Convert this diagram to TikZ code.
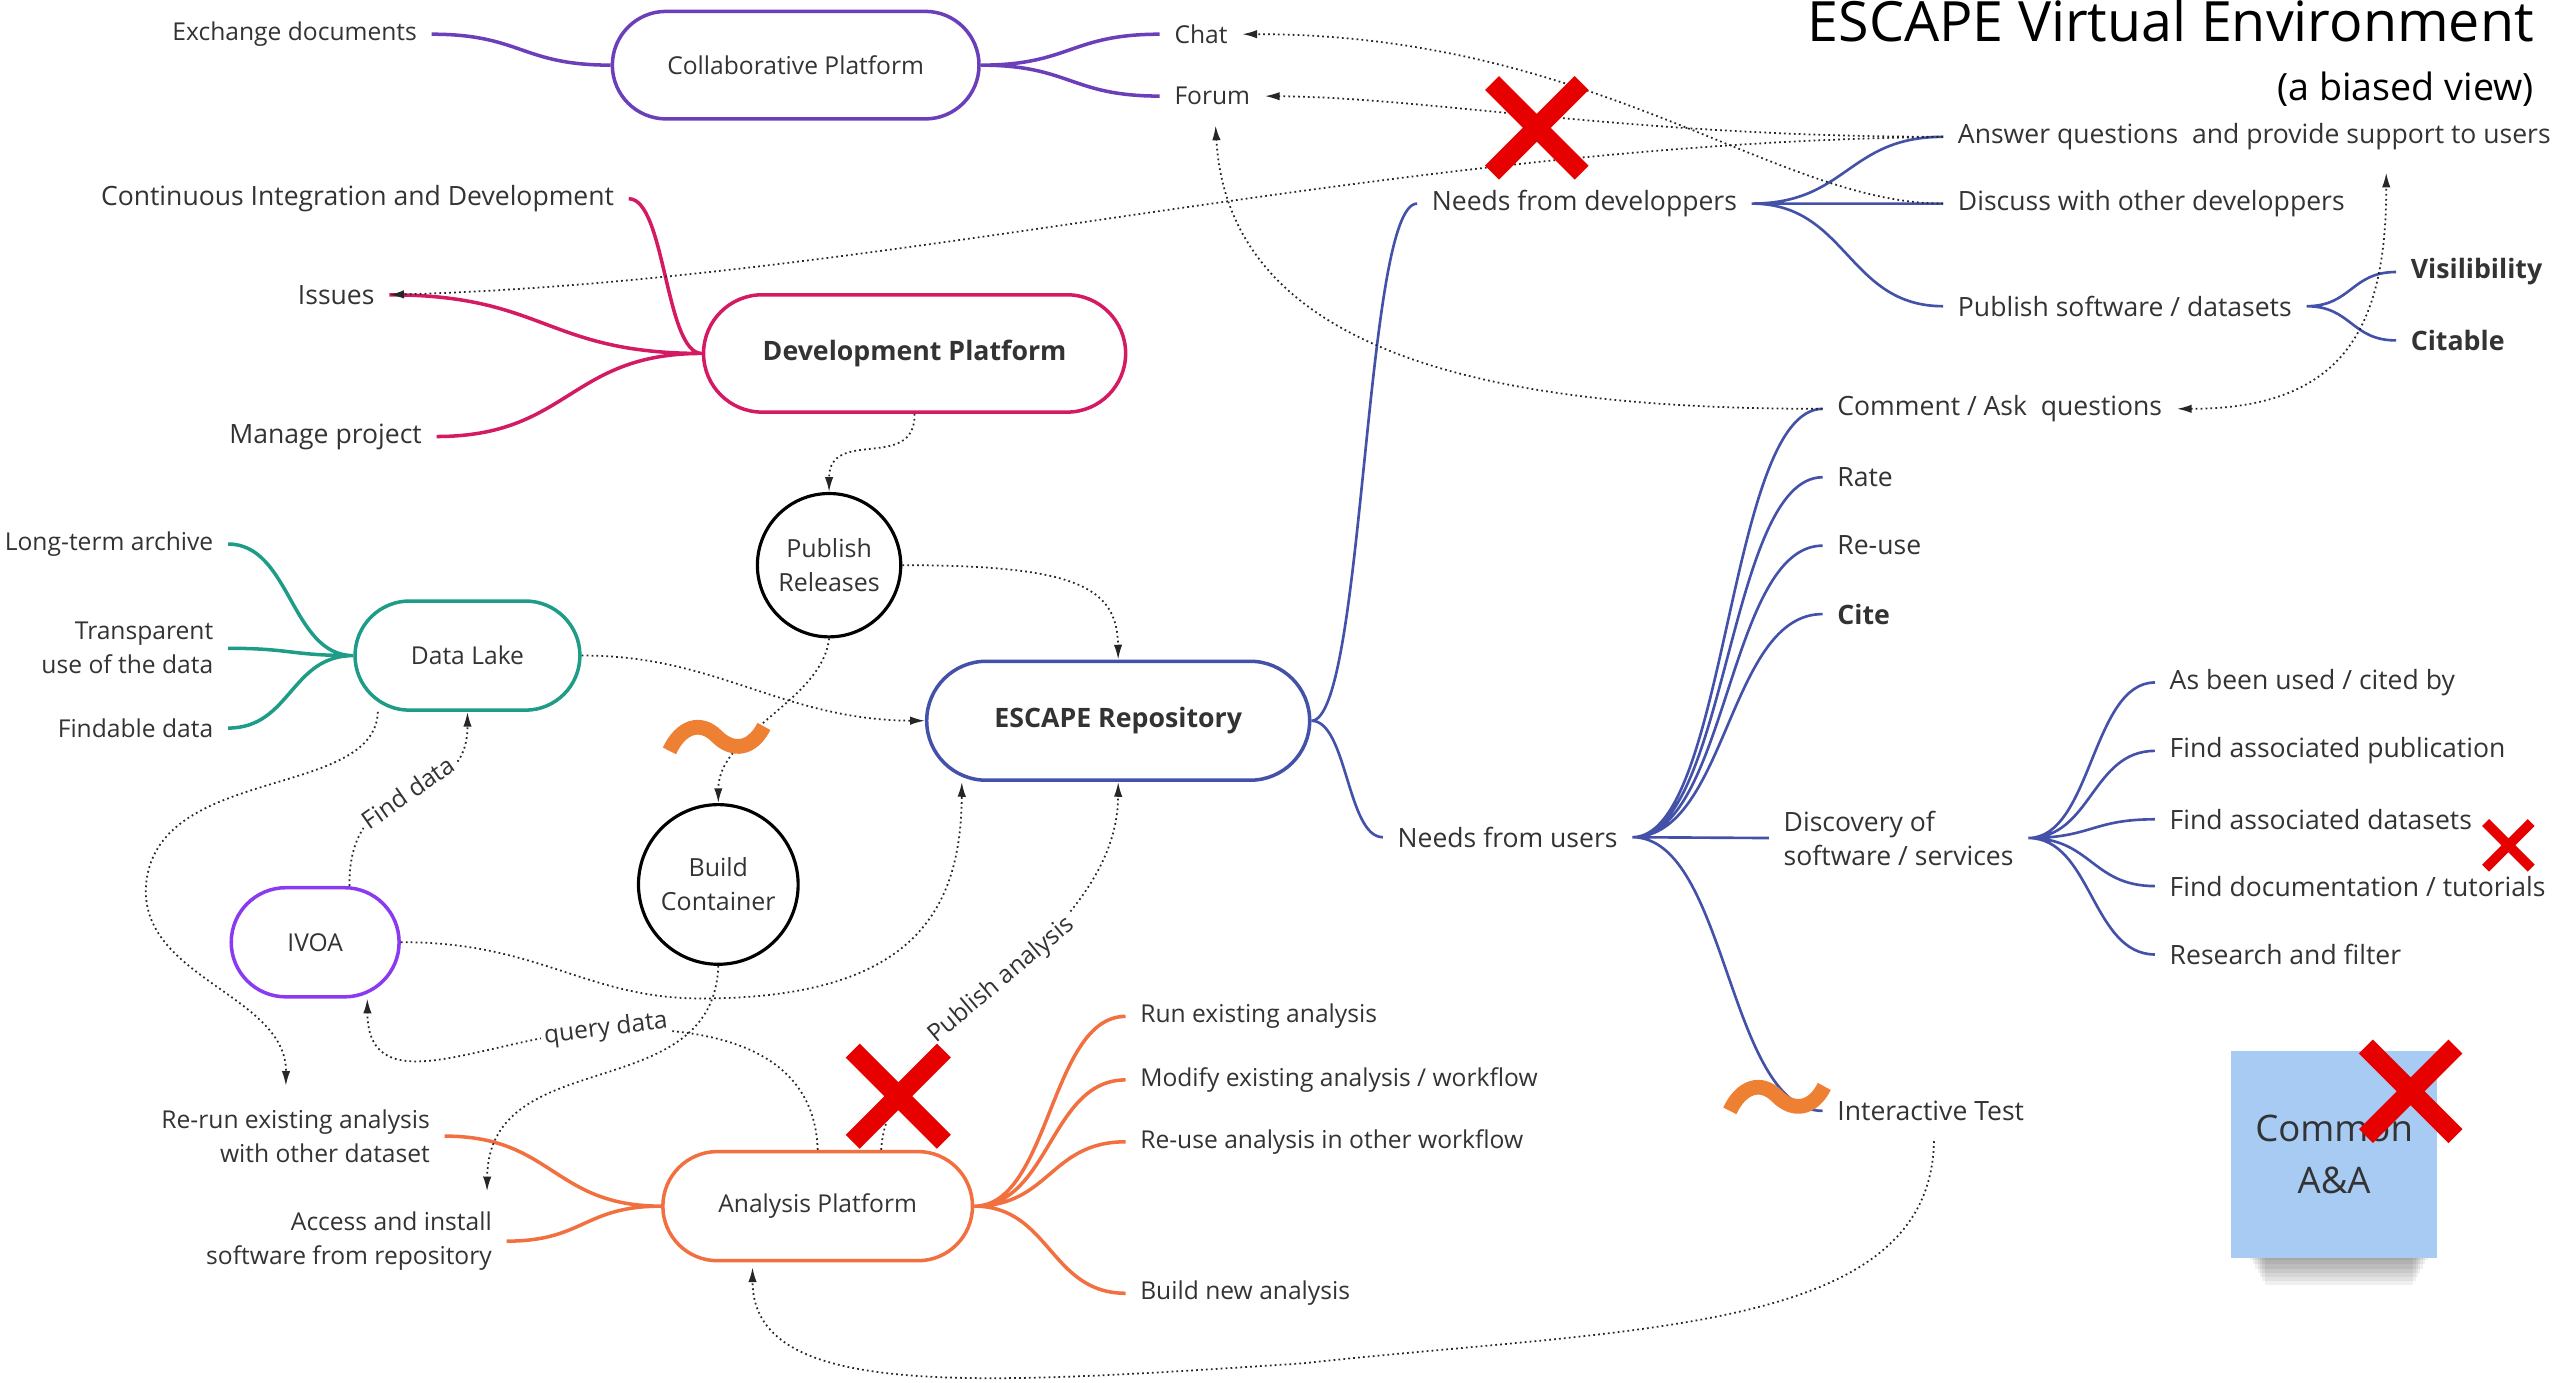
\documentclass[tikz,border=0pt]{standalone}
\usepackage{fontspec}
\setmainfont{Open Sans}
\usetikzlibrary{shapes.misc,arrows.meta,calc}
\newlength\pxu \setlength\pxu{0.016288cm}
\definecolor{txt}{HTML}{333333}
\definecolor{cPurple}{HTML}{6B3FBA}
\definecolor{cPink}{HTML}{D41A63}
\definecolor{cTeal}{HTML}{1E9C87}
\definecolor{cViolet}{HTML}{8A3BF2}
\definecolor{cBlue}{HTML}{4352A8}
\definecolor{cOrange}{HTML}{F2703F}
\definecolor{cTilde}{HTML}{EE8033}
\definecolor{cRed}{HTML}{E60000}
\definecolor{cSticky}{HTML}{A8CBF3}
\tikzset{
  lbl/.style={text=txt, inner xsep=4pt, inner ysep=1pt, font=\fontsize{7.0}{9.7}\selectfont},
  lblL/.style={lbl, font=\fontsize{7.55}{9.7}\selectfont},
  lblLb/.style={lbl, font=\fontsize{7.6}{9.7}\selectfont\bfseries},
  stad/.style={rounded rectangle, draw, line width=1pt, text=txt, inner sep=0pt, font=\fontsize{7.0}{9.7}\selectfont},
  stadb/.style={stad, font=\fontsize{7.6}{9.7}\selectfont\bfseries},
  circ/.style={circle, draw=black, line width=0.9pt, text=txt, inner sep=0pt, align=center, font=\fontsize{7.1}{9.7}\selectfont},
  treeline/.style={line width=1pt, draw=#1},
  thintree/.style={line width=0.75pt, draw=#1},
  mm/.style={to path={.. controls ($(\tikztostart)!0.5!(\tikztostart -| \tikztotarget)$) and ($(\tikztotarget)!0.5!(\tikztotarget -| \tikztostart)$) .. (\tikztotarget) \tikztonodes}},
  dotarr/.style={draw=black!85, line width=0.5pt, dash pattern=on 0.5pt off 0.9pt, -{Latex[length=4.2pt,width=2.4pt]}},
  dotarrb/.style={dotarr, {Latex[length=4.2pt,width=2.4pt]}-{Latex[length=4.2pt,width=2.4pt]}},
  edgelbl/.style={fill=white, inner sep=1pt, text=txt, font=\fontsize{7.0}{9.7}\selectfont},
  xmark/.style={draw=cRed, line width=5.6pt},
  tilde/.style={draw=cTilde, line width=4.2pt},
}
\begin{document}
\begin{tikzpicture}[x=\pxu,y=-\pxu]
\useasboundingbox (0,0) rectangle (1568,849);

% title
\node[anchor=base east, inner sep=0pt, text=black, font=\fontsize{15.8}{18}\selectfont] (title) at (1556,25.5) {ESCAPE Virtual Environment};
\node[anchor=base east, inner sep=0pt, text=black, font=\fontsize{10.7}{13}\selectfont] (subtitle) at (1556,61.5) {(a biased view)};

% Collaborative platform
\node[stad, draw=cPurple, minimum width=3.665cm, minimum height=1.075cm] (collab) at (488.5,40) {Collaborative Platform};
\node[lbl, anchor=east] (exch) at (265,21) {Exchange documents};
\node[lbl, anchor=west] (chat) at (712,21) {Chat};
\node[lbl, anchor=west] (forum) at (712,59) {Forum};
\draw[treeline=cPurple] (collab.west) to[mm] (exch.east);
\draw[treeline=cPurple] (collab.east) to[mm] (chat.west) (collab.east) to[mm] (forum.west);

% Development platform
\node[stadb, draw=cPink, minimum width=4.219cm, minimum height=1.173cm] (dev) at (561.5,217) {Development Platform};
\node[lblL, anchor=east] (ci) at (386,122) {Continuous Integration and Development};
\node[lblL, anchor=east] (issues) at (239,181) {Issues};
\node[lblL, anchor=east] (manage) at (268,268) {Manage project};
\draw[treeline=cPink] (dev.west) to[mm] (ci.east) (dev.west) to[mm] (issues.east) (dev.west) to[mm] (manage.east);

% Data lake
\node[stad, draw=cTeal, minimum width=2.248cm, minimum height=1.091cm] (lake) at (287,402.5) {Data Lake};
\node[lbl, anchor=east] (lta) at (140,334) {Long-term archive};
\node[lbl, anchor=east, align=right] (transp) at (140,398) {Transparent\\use of the data};
\node[lbl, anchor=east] (findable) at (140,447) {Findable data};
\draw[treeline=cTeal] (lake.west) to[mm] (lta.east) (lake.west) to[mm] (transp.east) (lake.west) to[mm] (findable.east);

% circles
\node[circ, minimum size=1.433cm] (pubrel) at (509,347) {Publish\\Releases};
\node[circ, minimum size=1.596cm] (build) at (441,543) {Build\\Container};

% IVOA
\node[stad, draw=cViolet, minimum width=1.678cm, minimum height=1.091cm] (ivoa) at (193.5,578.5) {IVOA};

% Repository
\node[stadb, draw=cBlue, minimum width=3.828cm, minimum height=1.189cm] (repo) at (686.5,442.5) {ESCAPE Repository};

% Analysis platform
\node[stad, draw=cOrange, minimum width=3.095cm, minimum height=1.091cm] (ana) at (502,740.5) {Analysis Platform};
\node[lbl, anchor=east, align=right] (rerun) at (273,697.5) {Re-run existing analysis\\with other dataset};
\node[lbl, anchor=east, align=right] (access) at (311,762) {Access and install\\software from repository};
\node[lbl, anchor=west] (runex) at (691,624) {Run existing analysis};
\node[lbl, anchor=west] (modify) at (691,663) {Modify existing analysis / workflow};
\node[lbl, anchor=west] (reusewf) at (691,701) {Re-use analysis in other workflow};
\node[lbl, anchor=west] (buildnew) at (691,794) {Build new analysis};
\draw[treeline=cOrange] (ana.west) to[mm] (rerun.east) (ana.west) to[mm] (access.east);
\draw[treeline=cOrange] (ana.east) to[mm] (runex.west) (ana.east) to[mm] (modify.west) (ana.east) to[mm] (reusewf.west) (ana.east) to[mm] (buildnew.west);

% Repository tree
\node[lblL, anchor=west] (devneeds) at (870,125) {Needs from developpers};
\node[lblL, anchor=west] (userneeds) at (849,514) {Needs from users};
\draw[thintree=cBlue] (repo.east) to[mm] (devneeds.west) (repo.east) to[mm] (userneeds.west);

\node[lblL, anchor=west] (answer) at (1193,84) {Answer questions\ \ and provide support to users};
\node[lblL, anchor=west] (discuss) at (1193,125) {Discuss with other developpers};
\node[lblL, anchor=west] (publish) at (1193,188) {Publish software / datasets};
\node[lblLb, anchor=west] (visi) at (1471,167) {Visilibility};
\node[lblLb, anchor=west] (citable) at (1471,209) {Citable};
\draw[thintree=cBlue] (devneeds.east) to[mm] (answer.west) (devneeds.east) to[mm] (discuss.west) (devneeds.east) to[mm] (publish.west);
\draw[thintree=cBlue] (publish.east) to[mm] (visi.west) (publish.east) to[mm] (citable.west);

\node[lblL, anchor=west] (comment) at (1119,251) {Comment / Ask\ \ questions};
\node[lblL, anchor=west] (rate) at (1119,293) {Rate};
\node[lblL, anchor=west] (reuse) at (1119,335) {Re-use};
\node[lblLb, anchor=west] (cite) at (1119,377) {Cite};
\node[lblL, anchor=west, align=left] (discovery) at (1086,514.5) {Discovery of\\software / services};
\node[lblL, anchor=west] (itest) at (1119,682) {Interactive Test};
\draw[thintree=cBlue] (userneeds.east) to[mm] (comment.west) (userneeds.east) to[mm] (rate.west) (userneeds.east) to[mm] (reuse.west) (userneeds.east) to[mm] (cite.west) (userneeds.east) to[mm] (discovery.west) (userneeds.east) to[mm] (itest.west);

\node[lblL, anchor=west] (asbeen) at (1323,419) {As been used / cited by};
\node[lblL, anchor=west] (findpub) at (1323,461) {Find associated publication};
\node[lblL, anchor=west] (findds) at (1323,503) {Find associated datasets};
\node[lblL, anchor=west] (finddoc) at (1323,544) {Find documentation / tutorials};
\node[lblL, anchor=west] (research) at (1323,586) {Research and filter};
\draw[thintree=cBlue] (discovery.east) to[mm] (asbeen.west) (discovery.east) to[mm] (findpub.west) (discovery.east) to[mm] (findds.west) (discovery.east) to[mm] (finddoc.west) (discovery.east) to[mm] (research.west);

% sticky note
\foreach \i in {0,...,7} {
  \fill[black, opacity=0.06] (1380+\i*1.5,766) rectangle (1492-\i*1.5,771+\i*2.6);
}
\node[fill=cSticky, minimum width=2.052cm, minimum height=2.069cm, inner sep=0pt, align=center, text=txt, font=\fontsize{10.4}{14.8}\selectfont] (common) at (1433,708.5) {Common\\A\&A};

% dotted connectors
\coordinate (ansfoot) at (1465,106);
\draw[dotarr] (discuss.west) .. controls (1090,125) and (980,21) .. (chat.east);
\draw[dotarr] (answer.west) .. controls (1000,84) and (880,60) .. (forum.east);
\draw[dotarr] (answer.west) .. controls (850,88) and (550,172) .. (issues.east);
\draw[dotarr] (comment.west) .. controls (950,251) and (755,230) .. ($(forum.south)+(2,10)$);
\draw[dotarrb] (comment.east) .. controls (1440,251) and (1465,200) .. (ansfoot);
\draw[dotarr] (dev.south) .. controls (562,290) and (509,262) .. (pubrel.north);
\draw[dotarr] (pubrel.east) .. controls (660,347) and (686,360) .. (repo.north);
\draw[dotarr] (pubrel.south) .. controls (505,430) and (441,450) .. (build.north);
\draw[dotarr] (lake.east) .. controls (440,402) and (480,442) .. (repo.west);
\draw[dotarr] ($(ivoa.north)+(21,0)$) .. controls (214,470) and (287,500) .. node[edgelbl, rotate=35] {Find data} (lake.south);
\draw[dotarr] (ivoa.east) .. controls (330,578) and (360,613) .. (430,613) .. controls (560,613) and (590,560) .. ($(repo.south)+(-96,0)$);
\draw[dotarr] ($(ana.north)+(39,0)$) .. controls (545,630) and (686,580) .. node[edgelbl, rotate=40] {Publish analysis} (repo.south);
\draw[dotarr] (ana.north) .. controls (500,640) and (430,630) .. (372,632) node[edgelbl, rotate=7] {query data} .. controls (300,636) and (226,680) .. ($(ivoa.south)+(32,0)$);
\draw[dotarr] ($(lake.south)+(-55,0)$) .. controls (230,490) and (100,470) .. (90,540) .. controls (82,600) and (176,610) .. ($(rerun.north)+(-6,-12)$);
\draw[dotarr] (build.south) .. controls (438,680) and (300,640) .. ($(access.north east)+(-12,-10)$);
\draw[dotarr] ($(itest.south)+(2,10)$) .. controls (1185,820) and (1000,815) .. (800,837) .. controls (600,850) and (462,860) .. ($(ana.south)+(-40,3)$);

% tildes
\draw[tilde] (411,461) .. controls (418,446) and (430,442) .. (440,452) .. controls (450,462) and (462,460) .. (469,446);
\draw[tilde] (1062,682) .. controls (1069,667) and (1081,663) .. (1091,673) .. controls (1101,683) and (1113,681) .. (1120,667);

% red crosses
\draw[xmark] (916,51) -- (971,106) (971,51) -- (916,106);
\draw[xmark] (523.5,645) -- (579.5,701) (579.5,645) -- (523.5,701);
\draw[xmark, line width=2.8pt] (1526,505) -- (1554,533) (1554,505) -- (1526,533);
\draw[xmark] (1452.5,642.5) -- (1507.5,697.5) (1507.5,642.5) -- (1452.5,697.5);
\end{tikzpicture}
\end{document}
